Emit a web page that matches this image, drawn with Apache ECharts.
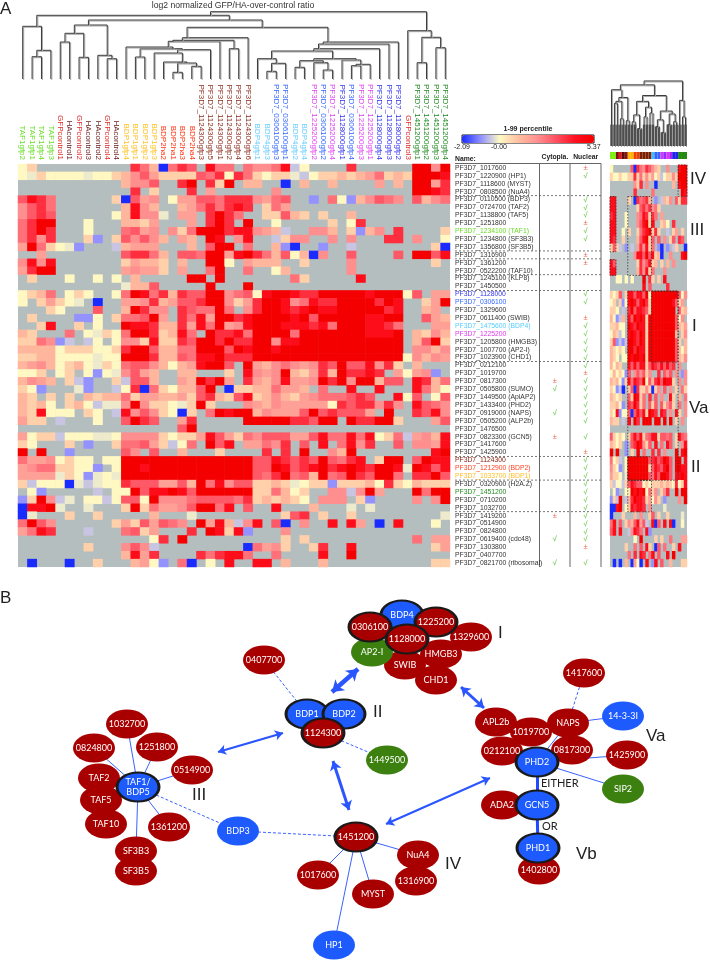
<!DOCTYPE html>
<html><head><meta charset="utf-8">
<style>html,body{margin:0;padding:0;background:#fff}#c{width:710px;height:960px}</style>
<script src="https://cdn.jsdelivr.net/npm/echarts@6/dist/echarts.min.js"></script>
</head><body><div id="c"></div>
<script>
// ---------- heatmap data: one code per cell, '.' = no value ----------
const codeValues = {B:-2.09,L:-1.0,P:-0.5,G:-0.12,Y:0.1,O:0.8,1:1.3,2:1.8,3:2.2,4:2.7,5:3.1,6:3.8,7:4.5,8:5.37};
const columnLabels = ['TAF1gfp2','TAF1gfp1','TAF1gfp4','TAF1gfp3','GFPcontrol1','HAcontrol1','GFPcontrol2','HAcontrol3','HAcontrol2','GFPcontrol4','HAcontrol4','BDP1gfp4','BDP1gfp1','BDP1gfp2','BDP1gfp3','BDP2ha2','BDP2ha1','BDP2ha3','BDP2ha4','PF3D7_1124300gfp3','PF3D7_1124300gfp5','PF3D7_1124300gfp1','PF3D7_1124300gfp2','PF3D7_1124300gfp4','PF3D7_1124300gfp6','BDP4gfp1','BDP4gfp3','PF3D7_0306100gfp3','PF3D7_0306100gfp1','BDP4gfp2','BDP4gfp4','PF3D7_1225200gfp2','PF3D7_0306100gfp2','PF3D7_1225200gfp4','PF3D7_1128000gfp1','PF3D7_0306100gfp4','PF3D7_1225200gfp3','PF3D7_1225200gfp1','PF3D7_1128000gfp4','PF3D7_1128000gfp3','PF3D7_1128000gfp2','GFPcontrol3','PF3D7_1451200gfp1','PF3D7_1451200gfp2','PF3D7_1451200gfp3','PF3D7_1451200gfp4'];
const rowNames = ['PF3D7_1017600','PF3D7_1220900 (HP1)','PF3D7_1118600 (MYST)','PF3D7_0808500 (NuA4)','PF3D7_0110500 (BDP3)','PF3D7_0724700 (TAF2)','PF3D7_1138800 (TAF5)','PF3D7_1251800','PF3D7_1234100 (TAF1)','PF3D7_1234800 (SF3B3)','PF3D7_1356800 (SF3B5)','PF3D7_1316900','PF3D7_1361200','PF3D7_0522200 (TAF10)','PF3D7_1245100 (KLP8)','PF3D7_1450500','PF3D7_1128000','PF3D7_0306100','PF3D7_1329600','PF3D7_0611400 (SWIB)','PF3D7_1475600 (BDP4)','PF3D7_1225200','PF3D7_1205800 (HMGB3)','PF3D7_1007700 (AP2-I)','PF3D7_1023900 (CHD1)','PF3D7_0212100','PF3D7_1019700','PF3D7_0817300','PF3D7_0505800 (SUMO)','PF3D7_1449500 (ApiAP2)','PF3D7_1433400 (PHD2)','PF3D7_0919000 (NAPS)','PF3D7_0505200 (ALP2b)','PF3D7_1476500','PF3D7_0823300 (GCN5)','PF3D7_1417600','PF3D7_1425900','PF3D7_1124300','PF3D7_1212900 (BDP2)','PF3D7_1033700 (BDP1)','PF3D7_0320900 (H2A.Z)','PF3D7_1451200','PF3D7_0710200','PF3D7_1032700','PF3D7_1419200','PF3D7_0514900','PF3D7_0824800','PF3D7_0619400 (cdc48)','PF3D7_1303800','PF3D7_0407700','PF3D7_0821700 (ribosomal)'];
const heatRows = [
'YO........ ..641B465. 744.43347P Y....6.... ..8838',
'YGOYYYYGYY O1352OOOO5 46Y64OYOOG PYOO1O124O 1O8887',
'.......... .1335..68. 6O8.11..B. 1..1....2. 1.8826',
'.......... ..6.O...6. 2......3.. .......... ..8876',
'5764...... OB523.Y225 546663245. .L.4YL1354 3.5134',
'3564...... .1731..124 64676.O42. .......... ......',
'3565...... Y1733G.22. 6864..OO51 O.O..1.... ......',
'4688...Y.. .11O2...2. 686.8..Y.. ...O.Y6... ......',
'4686...Y.. .4523.3O48 8867732 1P. .331.OL13. 6....O',
'4636...OL. O53531.21. 87.37..PO3 3..3.3...6 6.3..Y',
'284OYGL... P1222...1. 588.4..1LB ..L..P.... ....OB',
'..2....... .56641.554 882786415Y 1B3..5.... 5.8857',
'3737...... .O211O.1.. 88Y.2111.. O....3.... ....O.',
'2688...... .2322O.2.. 48..4..Y1. .....3.... ......',
'.O...Y..Y. Y.1.....88 .8.......4 O.....7... ......',
'.......... .G115..... 8...8..... .......... ......',
'YO14.YOY.. Y487461655 88345Y7887 6688888788 8Y5.22',
'Y.O2OYG.B. .223612556 883O268873 4766888868 7..O28',
'...OY...5. .18633.654 484.368876 7877888886 7..12.',
'.O....LLY. O44582.647 2886788887 8588888778 8..521',
'..O7..O.Y. .877611627 4823788877 7674888776 4...22',
'1O...4.YGO Y4886O174. 8667488884 8888888777 8.1O31',
'OO43LP.PY. Y33O7OO658 8686688377 8888888888 8.158O',
'1111YOOOYY O688511448 8858788788 8888888888 8.3313',
'OO11YYYYGY Y888611547 7866688888 8888888888 8Y3132',
'1231YO1YGO Y45531Y127 885.821343 2365855736 O.1...',
'YYO.YO.YLY G3521..11. ..O.732381 O26186676. 2Y23L.',
'1321.OPL.. OP551..218 682.621372 2386838815 5.7614',
'OYL...GL.. PY6B4OY115 8.BOO11422 1.4..7..7. ..741Y',
'1O.O.O.1O1 14O22112O5 61O57O131O 23444565.. 7Y5.Y5',
'1O1Y.O1YPG G383OOYGO8 O...321322 222Y656636 3.7543',
'1O7YYY.OY. P7353OYBO. 4878813222 58565552.8 ..6573',
'2OO.P...Y. .5865..26. ....888886 6588.86688 O...25',
'.......... .......58. .......... .......... ......',
'2YOOPYYYGG Y3333OYOO2 752O435552 25744747YO 4P2317',
'OY...O.L.. O4452OPY4. 857.22436. 5.7.4736.. 5.3327',
'8.8..L.... .53.5..1.. .O....6.6. 8..318.... ....78',
'4223YOYY.Y Y888888888 8888855765 6585467.O8 8.5877',
'2344OOYYL. Y887888888 8888855875 6786787688 7G8757',
'2222GOYLGY G888888888 8888854684 5184586588 4.6685',
'OPYYYBGPGY Y655522518 47355OO1OG YOOLOOO1Y6 OY1OOO',
'.YL.....P. YY85778758 88888OO41Y O..33P382. ..8488',
'LO83PG.YYP Y55Y833345 55546O1O1O Y.333.OL.. ..3.38',
'B778G..G.. .O8O422358 847.5..7.. .1...G.G.. ......',
'BG...O..O. ....1...G. ........O5 6.O..O.... .....G',
'4853...... O2O52543.8 271P37.5B. 3..7.72.B. 7...Y.',
'2476...P.. .45O2...6. 87O7L...3. .......... ......',
'.......... ....Y6.8.. ........O. O......... ..4.22',
'.......O.. .353P..... ....B423O. .O6..7.... ....O2',
'.......... .1726....6 46774..4.. ..7..8.... ......',
'.B...B..O. ..12YL.4B. Y.7..77.1. ..1....... ....OO'];
const thumbRows = [
'Y......5B6 436531O..3 ...788','OYYOYYOO6O 4O3O2YOPYO O3O888','........3O 6.3..B.... .1.788','........6. ....4..... ....87',
'77....O.B6 4561.L.P1O 3.5O66','77.......O 564634O... ......','67...Y...3 476O64.2.. ......','77...Y...3 578O7..O1Y .6....',
'77..Y.O..O 4678O6O..P .O2.O.','76..O....1 578O5.5.3. O5.65.','O5OP.L.P.2 637O4.LB.L .PO..B','........37 75857O1B.. 3...78',
'75.......O 6357O1.O.1 .3....','77.......1 637O4...3. ......','..YY.Y.Y.. .8.6O.O.7. ......','.......... .7.5.....6 ......',
'OYO5.O7757 758Y888888 8885Y3','YO.OLY7875 786O888888 875O2.','OOY.P.6857 765O888888 88.5O1','1YLP1.7587 87O8888888 885Y3.',
'OO1YY.8768 77O8888888 8851O2','Y1OPY.7876 87O8888888 881.O3','O5LPLP8876 87O8888888 885O.1','1OYOY.8868 77O8888888 8851Y1',
'1OY.YY8788 78O8888888 8851O3','1Y1O..7575 77O5765757 56.3..','Y1YOYL5.35 35O3..6.53 5.3.L3','1O1YLO7476 58Y5167587 7O.3.3',
'OYLPB.O5B6 OO3OBO3.5. 3.O.4O','1OYO..5O87 O4.6.5.3.. 7O.1.4','OO1YL.6586 O4.5O5.5O3 5O.4.3','OY7LYY5B57 57O876.76. 3.7O.3',
'1OO.P.7.86 .888.88.8. 8.O.3.','.......... .......... ......','5OYOY.O575 7O4577O554 5.O754','1OYO.L.568 73O5.7.4.7 5.O.37',
'8.8..L.O.8 .4..6.6.3. ..8.78','4YOP.Y8888 8885675687 5.88.7','3OYL.Y8888 888O576578 5.8877','2OOY.G8888 8885475887 5.7787',
'OPYYPO5765 5YOYOOO1O1 OY6YO7','.YL..YY878 78Y4O3.O36 ..8.88','LOP8.P1687 76O2Y3O.L. ...3.8','BB78.YO767 76.3....G. ......',
'B...O...1. 3..O5.O..O ....G.','47.5.O3157 25P.7B5.7. 7B..Y.','57.7..P376 4.7L...... ......','........Y. 8....O.O.. 4...22',
'.....O..4. 5.7O.B5.4. .O.7..','......4.6. 76.47.5..7 .8....','.B.B.1.B2Y B.7.L7.5.. 1...OO'];
// ---------- localisation table ----------
const nuclearMarks = '±√..√√√±√√.±±...√√.±√√√√√√±√√√√√√.√.±√√√√√√√√√√√±.√'.split('');
const cytoMarks = {27:'±',28:'√',31:'√',34:'±',44:'±',47:'√',50:'√'};
const separatorsAfterRow = [4,11,12,14,16,25,37,40,44];
const rowNameColors = {8:'#66DD22',16:'#3333EE',17:'#3366FF',20:'#55CCFF',21:'#DD33EE',37:'#882211',38:'#FF4422',39:'#FFBB22',41:'#228B22'};
function colLabelColor(s){
  if(s.startsWith('TAF1'))return '#66DD22'; if(s.startsWith('GFPc'))return '#E02828'; if(s.startsWith('HAc'))return '#6A2020';
  if(s.startsWith('BDP1'))return '#FFC020'; if(s.startsWith('BDP2'))return '#FF3311'; if(s.startsWith('BDP4'))return '#66CCFF';
  if(s.includes('1124300'))return '#8B2B1B'; if(s.includes('0306100'))return '#3366FF'; if(s.includes('1225200'))return '#E040F0';
  if(s.includes('1128000'))return '#3030EE'; if(s.includes('1451200'))return '#228822'; return '#333';
}
// ---------- dendrograms: [node, left, right, height]; numbers are leaves ----------
const colMerges = [
['a',2,3,22.3],['b','a',4,28.7],['c',1,'b',52.7],['d',5,6,37],['e',7,8,21.7],['f','d','e',45.7],['g',10,11,20.3],['h',9,'g',23.7],['i','f','h',54],
['k',13,14,22],['l',17,18,6.7],['m',19,20,12.7],['n','l','m',16],['o',16,'n',17],['p',15,'o',26],['t','p',21,29.3],['q','k','t',30.3],['v',12,'q',32],['w','v',22,37.7],['j',23,24,30.3],['x','w','j',38.7],['y','x',25,41.3],
['a1',27,28,7.7],['a2','a1',29,15.7],['a3',26,'a2',20.3],['b1',30,31,11.7],['b2',33,34,9],['b3',32,'b2',16.3],['c1','b1','b3',18.3],['b4',36,37,13.3],['b5','b4',38,14.7],['b6',35,'b5',19],['c2','c1','b6',20.3],['d2','a3','c2',28],['d1','d2',39,30.3],['d3','d1',40,35],['d4','d3',41,37],
['y2','y','d4',51.7],['z','i','y2',59],['top','c','z',63.7],['e1',43,44,16.3],['e2',45,46,31.3],['e3','e1','e2',41.7],['e4',42,'e3',48.3],['root','top','e4',67.3]];
const thumbMerges = [
['t1',2,3,44],['t2',4,5,28],['t3','t1','t2',46],['t5',6,7,26],['t7','t3','t5',50],['L',1,'t7',58],
['m1',8,9,25],['m2',10,11,18],['m3','m1','m2',32],['m4',12,13,30],['m5',14,15,34],['m6','m4','m5',40],['m7','m3','m6',46],
['r1',16,17,20],['r2',18,19,14],['r3','r1','r2',27],['r4',20,21,22],['r5',22,23,25],['r6','r4','r5',33],['r7','r3','r6',36],
['MR','m7','r7',52],['Lp','L','MR',63],['s1',25,26,30],['s2',24,'s1',47],['root','Lp','s2',67]];
const stripColors = ['#7FEF10','#7FEF10','#7A1010','#E01818','#5A0C0C','#8A1414','#FFB400','#FFB400','#F04000','#F04000','#7B2000','#7B2000','#7B2000','#7B2000','#44BBFF','#3366FF','#3366FF','#DD33FF','#8833FF','#DD33FF','#AA22EE','#2222EE','#2222EE','#228811','#228811','#228811'];
// thumbnail dotted boxes: first column, first row, last column, last row (1-based)
const thumbBoxes = [[24,1,26,4],[1,5,2,11],[1,13,2,14],[7,5,14,14],[7,17,23,40],[15,17,23,25],[7,38,14,40],[7,41,14,44]];
// ---------- network ----------
const netNodes = [
['0407700','r'],['1449500','g'],['BDP3','b'],['HP1','b'],['1017600','r'],['MYST','r'],['NuA4','r'],['1316900','r'],['1451200','R'],
['BDP1','B'],['BDP2','B'],['1124300','R'],
['1032700','r'],['0824800','r'],['1251800','r'],['0514900','r'],['TAF10','r'],['TAF5','r'],['TAF2','r'],['1361200','r'],['SF3B5','r'],['SF3B3','r'],['TAF1/\nBDP5','B'],
['CHD1','r'],['SWIB','r'],['HMGB3','r'],['1329600','r'],['AP2-I','g'],['BDP4','B'],['0306100','R'],['1225200','R'],['1128000','R'],
['1417600','r'],['14-3-3I','b'],['1425900','r'],['SIP2','g'],['APL2b','r'],['NAPS','r'],['1019700','r'],['0212100','r'],['0817300','r'],['ADA2','r'],['GCN5','B'],['PHD2','B'],['1402800','r'],['PHD1','B']];
const solidLinks = [['TAF1/\nBDP5','1032700'],['TAF1/\nBDP5','0824800'],['TAF1/\nBDP5','1251800'],['TAF1/\nBDP5','0514900'],['TAF1/\nBDP5','1361200'],['TAF1/\nBDP5','SF3B3'],['1451200','1017600'],['1451200','HP1'],['1451200','MYST'],['1451200','NuA4'],['NAPS','14-3-3I'],['PHD2','1425900'],['PHD2','SIP2'],['PHD2','NAPS']];
const dashedLinks = [['TAF1/\nBDP5','BDP3'],['BDP3','1451200'],['0407700','BDP1'],['1124300','1449500'],['1417600','NAPS']];
const thickLinks = [['PHD2','GCN5'],['GCN5','PHD1']];
const bigArrows = [['x1','x2',2.2,8],['x3','x4',4.5,11],['x5','x6',3,9],['x7','x8',3,9],['x9','x10',2,8]];
// layout of the drawing (page pixels), separate from the data above
const netLayout = {'0407700':[264,660],'1449500':[387,760],'BDP3':[238,831],'HP1':[334,945],'1017600':[318,875],'MYST':[373,894],'NuA4':[418,855],'1316900':[416,881],'1451200':[356,837],'BDP1':[307,714],'BDP2':[344,714],'1124300':[323,733],'1032700':[127,724],'0824800':[94,748],'1251800':[157,747],'0514900':[192,770],'TAF10':[106,824],'TAF5':[101,800],'TAF2':[99,778],'1361200':[169,827],'SF3B5':[136,871],'SF3B3':[136,851],'TAF1/\nBDP5':[138,787],'CHD1':[436,680],'SWIB':[405,665],'HMGB3':[441,654],'1329600':[471,637],'AP2-I':[372,652],'BDP4':[402,615],'0306100':[370,627],'1225200':[436,622],'1128000':[407,639],'1417600':[584,673],'14-3-3I':[623,716],'1425900':[627,755],'SIP2':[623,789],'APL2b':[496,722],'NAPS':[568,723],'1019700':[531,732],'0212100':[502,751],'0817300':[572,750],'ADA2':[502,805],'GCN5':[537,805],'PHD2':[537,762],'1402800':[539,870],'PHD1':[538,848],
x1:[218,752],x2:[283,733],x3:[332,692],x4:[358,669],x5:[333,761],x6:[349,810],x7:[461,687],x8:[484,708],x9:[386,824],x10:[490,778]};
const kindFill = {r:'#A80000',R:'#A80000',b:'#1E5BFF',B:'#1E5BFF',g:'#3C8010'};
const ellipse = 'path://M0,1A1,1 0 1,1 2,1A1,1 0 1,1 0,1Z';

// ---------- build ----------
function decode(rows){
  const out=[];
  rows.forEach((r,y)=>{ r.replace(/ /g,'').split('').forEach((c,x)=>{ if(c!=='.'&&codeValues[c]!==undefined) out.push([x,y,codeValues[c]]); }); });
  return out;
}
function buildTree(merges){
  const nodes={};
  const info=k=> typeof k==='number'?{leaves:[k],h:0,leaf:1}:nodes[k];
  const pos=n=>n.leaves.reduce((a,b)=>a+b,0)/n.leaves.length-0.5;
  return merges.map(([name,l,r,h])=>{
    const a=info(l),b=info(r);
    nodes[name]={leaves:a.leaves.concat(b.leaves),h,leaf:0};
    return [pos(a),a.h,pos(b),b.h,h,a.leaf,b.leaf];
  });
}
const dark='#3a3a3a';
function treeItem(stem){ return function(params,api){
  const v=i=>api.value(i), P=(x,y)=>api.coord([x,y]);
  const pts=[P(v(0),v(1)),P(v(0),v(4)),P(v(2),v(4)),P(v(2),v(3))];
  const kids=[
    {type:'polyline',shape:{points:pts.map(p=>[p[0]+1,p[1]+1])},style:{fill:null,stroke:'#a8a8a8',lineWidth:1}},
    {type:'polyline',shape:{points:pts},style:{fill:null,stroke:dark,lineWidth:1}}];
  if(stem){
    [[0,5],[2,6]].forEach(([xi,fl])=>{ if(v(fl)){ const a=P(v(xi),0),b=P(v(xi),Math.min(v(4),stem));
      kids.push({type:'line',shape:{x1:a[0],y1:a[1],x2:b[0],y2:b[1]},style:{stroke:'#4e4e4e',lineWidth:2.4}}); }});
  }
  return {type:'group',children:kids};
};}
const hexStops=['#1A2BFF','#9090FF','#FFFBC4','#FFBEA0','#FF9090','#FF5060','#FF1020','#F50000'];
const hiddenCat=(gridIndex,data,inv)=>({type:'category',gridIndex,data,inverse:!!inv,show:false});
const range=n=>Array.from({length:n},(_,i)=>String(i));
const txt=(x,y,t,o)=>({type:'text',x,y,silent:true,style:Object.assign({text:t,fill:'#222',font:'11px "Liberation Sans"'},o||{})});
const rule=(x1,y1,x2,y2)=>({type:'line',silent:true,shape:{x1,y1,x2,y2},style:{stroke:'#666',lineWidth:1}});

const graphNodes = netNodes.map(([name,k])=>({
  name, value:netLayout[name], symbol:ellipse, symbolSize:[42,29],
  itemStyle:{color:kindFill[k],borderColor:(k==='R'||k==='B')?'#1a1a1a':'transparent',borderWidth:(k==='R'||k==='B')?2.5:0}
}));
['x1','x2','x3','x4','x5','x6','x7','x8','x9','x10'].forEach(n=>graphNodes.unshift({name:n,value:netLayout[n],symbol:'none',symbolSize:0,label:{show:false}}));
const graphLinks = [].concat(
  solidLinks.map(([source,target])=>({source,target,lineStyle:{color:'#3A62FF',width:1,type:'solid',opacity:1}})),
  dashedLinks.map(([source,target])=>({source,target,lineStyle:{color:'#3A62FF',width:1,type:[3,2],opacity:1}})),
  thickLinks.map(([source,target])=>({source,target,lineStyle:{color:'#1E4BFF',width:3,type:'solid',opacity:1}})),
  bigArrows.map(([source,target,width,size])=>({source,target,symbol:['arrow','arrow'],symbolSize:size,lineStyle:{color:'#2A55FF',width,type:'solid',opacity:1}}))
);
const tableData=(marks,col,sym)=>marks.map((m,i)=>m===sym?[col,i]:null).filter(Boolean);
const cytoArr=rowNames.map((_,i)=>cytoMarks[i]||'.');

const option = {
  animation:false, backgroundColor:'#fff',
  textStyle:{fontFamily:'"Liberation Sans"'},
  grid:[
    {left:18,top:164,width:432,height:403,show:true,backgroundColor:'#B4BEBE',borderWidth:0},
    {left:18,top:9,width:432,height:70},
    {left:539.5,top:164,width:61.5,height:403},
    {left:610,top:165,width:77,height:402,show:true,backgroundColor:'#B4BEBE',borderWidth:0},
    {left:610,top:80,width:77,height:66},
    {left:610,top:152,width:77,height:7},
    {left:0,top:0,width:710,height:960}
  ],
  xAxis:[
    {type:'category',gridIndex:0,data:columnLabels,position:'top',axisLine:{show:false},axisTick:{show:false},
     axisLabel:{interval:0,rotate:90,margin:4,fontSize:8,fontFamily:'"Liberation Sans"',color:v=>colLabelColor(v),hideOverlap:false}},
    {type:'value',gridIndex:1,min:0,max:46,show:false},
    {type:'category',gridIndex:2,data:['Cytopla.','Nuclear'],position:'top',axisLine:{show:false},axisTick:{show:false},
     axisLabel:{interval:0,margin:3,fontSize:6.8,fontWeight:'bold',color:'#222'}},
    hiddenCat(3,range(26)),
    {type:'value',gridIndex:4,min:0,max:26,show:false},
    hiddenCat(5,range(26)),
    {type:'value',gridIndex:6,min:0,max:710,show:false}
  ],
  yAxis:[
    {type:'category',gridIndex:0,data:rowNames,inverse:true,position:'right',axisLine:{show:false},axisTick:{show:false},
     axisLabel:{interval:0,margin:5,fontSize:6.8,align:'left',fontFamily:'"Liberation Sans"',color:(v,i)=>rowNameColors[i]||'#333'}},
    {type:'value',gridIndex:1,min:0,max:70,show:false},
    hiddenCat(2,rowNames,true),
    hiddenCat(3,range(51),true),
    {type:'value',gridIndex:4,min:0,max:68,show:false},
    {type:'value',gridIndex:5,min:0,max:1,show:false},
    {type:'value',gridIndex:6,min:0,max:960,inverse:true,show:false}
  ],
  visualMap:[{
    type:'continuous',seriesIndex:[0,1],dimension:2,min:-2.09,max:5.37,orient:'horizontal',left:462,top:135,padding:0,
    itemWidth:8,itemHeight:132,text:null,showLabel:false,calculable:false,hoverLink:false,realtime:false,inRange:{color:hexStops},
    textStyle:{fontSize:0}
  }],
  series:[
    {type:'heatmap',xAxisIndex:0,yAxisIndex:0,data:decode(heatRows),silent:true,progressive:0,itemStyle:{borderWidth:0}},
    {type:'heatmap',xAxisIndex:3,yAxisIndex:3,data:decode(thumbRows),silent:true,progressive:0,itemStyle:{borderWidth:0}},
    {type:'custom',xAxisIndex:1,yAxisIndex:1,data:buildTree(colMerges),renderItem:treeItem(0),silent:true,clip:false},
    {type:'custom',xAxisIndex:4,yAxisIndex:4,data:buildTree(thumbMerges),renderItem:treeItem(22),silent:true,clip:false},
    {type:'bar',xAxisIndex:5,yAxisIndex:5,barWidth:'100%',silent:true,data:stripColors.map(c=>({value:1,itemStyle:{color:c}}))},
    {type:'custom',xAxisIndex:3,yAxisIndex:3,silent:true,clip:false,data:thumbBoxes,
     renderItem(params,api){
       const a=api.coord([api.value(0)-1,api.value(1)-1]),b=api.coord([api.value(2)-1,api.value(3)-1]),s=api.size([1,1]);
       return {type:'rect',shape:{x:a[0]-s[0]/2,y:a[1]-s[1]/2,width:b[0]-a[0]+s[0],height:b[1]-a[1]+s[1]},style:{fill:null,stroke:'#333',lineWidth:0.8,lineDash:[1.5,1.5]}};
     }},
    {type:'custom',xAxisIndex:2,yAxisIndex:2,silent:true,clip:false,data:separatorsAfterRow.map(r=>[0,r-1]),
     renderItem(params,api){
       const p=api.coord([0,api.value(1)]),s=api.size([0,1]);
       const y=p[1]+s[1]/2;
       return {type:'line',shape:{x1:455,y1:y,x2:601,y2:y},style:{stroke:'#555',lineWidth:0.8,lineDash:[2,2]}};
     }},
    {type:'scatter',xAxisIndex:2,yAxisIndex:2,symbolSize:1,itemStyle:{color:'transparent'},silent:true,
     data:tableData(cytoArr,0,'√').concat(tableData(nuclearMarks,1,'√')),
     label:{show:true,position:'inside',formatter:'√',fontSize:7.5,fontWeight:'bold',color:'#55C030'}},
    {type:'scatter',xAxisIndex:2,yAxisIndex:2,symbolSize:1,itemStyle:{color:'transparent'},silent:true,
     data:tableData(cytoArr,0,'±').concat(tableData(nuclearMarks,1,'±')),
     label:{show:true,position:'inside',formatter:'±',fontSize:7.5,color:'#E04020'}},
    {type:'graph',coordinateSystem:'cartesian2d',xAxisIndex:6,yAxisIndex:6,silent:true,
     data:graphNodes,links:graphLinks,edgeSymbol:['none','none'],
     label:{show:true,position:'inside',color:'#fff',fontSize:9,fontFamily:'Lato',lineHeight:10,formatter:p=>p.name},
     emphasis:{disabled:true}}
  ],
  graphic:{elements:[
    txt(0,1,'A',{font:'17px "Liberation Sans"'}),
    txt(0,590,'B',{font:'17px "Liberation Sans"'}),
    txt(233,1,'log2 normalized GFP/HA-over-control ratio',{font:'8.6px "Liberation Sans"',textAlign:'center',fill:'#333'}),
    {type:'rect',silent:true,shape:{x:462,y:135,width:132,height:8},style:{fill:null,stroke:'#111',lineWidth:1}},
    txt(528,126,'1-99 percentile',{font:'bold 7px "Liberation Sans"',textAlign:'center'}),
    txt(454,144,'-2.09',{font:'7px "Liberation Sans"'}),
    txt(491,144,'-0.00',{font:'7px "Liberation Sans"'}),
    txt(587,144,'5.37',{font:'7px "Liberation Sans"'}),
    txt(455,156,'Name:',{font:'bold 6.8px "Liberation Sans"'}),
    rule(455,163.5,601,163.5),rule(539.5,163.5,539.5,567),rule(570,163.5,570,567),rule(601,163.5,601,567),
    txt(690,171,'IV',{font:'17px "Liberation Sans"'}),
    txt(690,222,'III',{font:'17px "Liberation Sans"'}),
    txt(692,318,'I',{font:'17px "Liberation Sans"'}),
    txt(689,400,'Va',{font:'17px "Liberation Sans"'}),
    txt(691,459,'II',{font:'17px "Liberation Sans"'}),
    txt(498,625,'I',{font:'17px "Liberation Sans"'}),
    txt(373,704,'II',{font:'17px "Liberation Sans"'}),
    txt(192,787,'III',{font:'17px "Liberation Sans"'}),
    txt(445,856,'IV',{font:'17px "Liberation Sans"'}),
    txt(646,728,'Va',{font:'17px "Liberation Sans"'}),
    txt(576,846,'Vb',{font:'17px "Liberation Sans"'}),
    txt(541,778,'EITHER',{font:'11px Lato'}),
    txt(542,821,'OR',{font:'11px Lato'})
  ]}
};
const chart = echarts.init(document.getElementById('c'),null,{renderer:'canvas'});
chart.setOption(option);
</script></body></html>
